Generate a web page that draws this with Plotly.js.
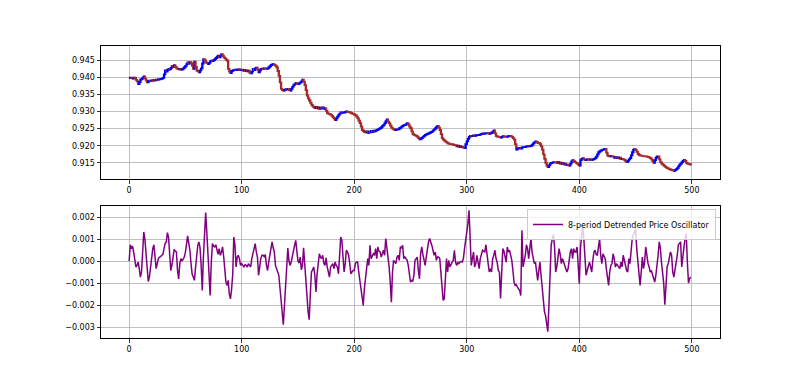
<!DOCTYPE html>
<html>
<head>
<meta charset="utf-8">
<script src="https://cdn.plot.ly/plotly-3.0.1.min.js"></script>
<style>html,body{margin:0;padding:0;background:#fff;}#chart{width:800px;height:380px;}</style>
</head>
<body>
<div id="chart"></div>
<script>
// Close prices (one per bar, bars 0..499)
const closes = [
0.9397,0.9399,0.9398,0.9396,0.9399,0.9398,0.9392,0.9388,0.9380,0.9386,
0.9393,0.9395,0.9399,0.9402,0.9396,0.9390,0.9385,0.9388,0.9390,0.9389,
0.9391,0.9390,0.9392,0.9391,0.9393,0.9392,0.9394,0.9394,0.9395,0.9396,
0.9398,0.9408,0.9420,0.9416,0.9421,0.9424,0.9423,0.9427,0.9432,0.9430,
0.9435,0.9430,0.9426,0.9424,0.9423,0.9424,0.9422,0.9423,0.9426,0.9429,
0.9433,0.9438,0.9443,0.9440,0.9444,0.9441,0.9433,0.9424,0.9445,0.9430,
0.9419,0.9418,0.9414,0.9420,0.9426,0.9440,0.9453,0.9450,0.9443,0.9441,
0.9438,0.9442,0.9446,0.9448,0.9447,0.9450,0.9453,0.9456,0.9460,0.9463,
0.9458,0.9462,0.9467,0.9463,0.9458,0.9455,0.9451,0.9448,0.9424,0.9416,
0.9412,0.9418,0.9420,0.9421,0.9422,0.9421,0.9422,0.9423,0.9421,0.9422,
0.9422,0.9419,0.9421,0.9418,0.9420,0.9417,0.9419,0.9413,0.9411,0.9416,
0.9424,0.9421,0.9426,0.9428,0.9422,0.9414,0.9420,0.9424,0.9425,0.9424,
0.9426,0.9425,0.9424,0.9426,0.9429,0.9432,0.9436,0.9437,0.9438,0.9436,
0.9433,0.9429,0.9418,0.9404,0.9385,0.9366,0.9362,0.9361,0.9363,0.9365,
0.9364,0.9366,0.9362,0.9361,0.9366,0.9372,0.9377,0.9380,0.9383,0.9381,
0.9380,0.9382,0.9385,0.9388,0.9393,0.9387,0.9377,0.9362,0.9346,0.9338,
0.9332,0.9325,0.9319,0.9315,0.9312,0.9310,0.9313,0.9309,0.9312,0.9308,
0.9311,0.9309,0.9312,0.9308,0.9309,0.9302,0.9295,0.9293,0.9292,0.9290,
0.9287,0.9283,0.9279,0.9275,0.9280,0.9285,0.9290,0.9294,0.9297,0.9296,
0.9297,0.9297,0.9299,0.9300,0.9299,0.9298,0.9297,0.9296,0.9294,0.9293,
0.9291,0.9289,0.9285,0.9280,0.9273,0.9266,0.9256,0.9246,0.9243,0.9240,
0.9239,0.9242,0.9238,0.9241,0.9239,0.9243,0.9240,0.9244,0.9242,0.9244,
0.9246,0.9248,0.9250,0.9251,0.9254,0.9258,0.9261,0.9266,0.9272,0.9277,
0.9270,0.9265,0.9259,0.9253,0.9250,0.9248,0.9246,0.9247,0.9248,0.9248,
0.9251,0.9253,0.9256,0.9258,0.9260,0.9261,0.9263,0.9266,0.9262,0.9256,
0.9251,0.9242,0.9234,0.9232,0.9230,0.9229,0.9226,0.9222,0.9219,0.9221,
0.9223,0.9226,0.9229,0.9232,0.9233,0.9235,0.9236,0.9238,0.9240,0.9241,
0.9245,0.9248,0.9251,0.9255,0.9258,0.9253,0.9246,0.9234,0.9222,0.9218,
0.9215,0.9212,0.9210,0.9207,0.9206,0.9205,0.9205,0.9204,0.9203,0.9202,
0.9201,0.9198,0.9200,0.9197,0.9199,0.9196,0.9197,0.9194,0.9193,0.9205,
0.9213,0.9220,0.9226,0.9229,0.9228,0.9229,0.9230,0.9229,0.9230,0.9231,
0.9231,0.9232,0.9233,0.9234,0.9236,0.9235,0.9236,0.9236,0.9237,0.9236,
0.9235,0.9237,0.9238,0.9241,0.9245,0.9236,0.9228,0.9227,0.9226,0.9226,
0.9224,0.9226,0.9228,0.9227,0.9226,0.9226,0.9227,0.9228,0.9229,0.9228,
0.9226,0.9222,0.9218,0.9205,0.9189,0.9192,0.9193,0.9194,0.9192,0.9195,
0.9196,0.9196,0.9197,0.9198,0.9199,0.9198,0.9199,0.9200,0.9203,0.9207,
0.9210,0.9213,0.9211,0.9208,0.9208,0.9205,0.9198,0.9189,0.9175,0.9162,
0.9150,0.9142,0.9138,0.9143,0.9148,0.9150,0.9151,0.9152,0.9152,0.9151,
0.9150,0.9153,0.9149,0.9151,0.9147,0.9150,0.9146,0.9148,0.9144,0.9145,
0.9143,0.9142,0.9148,0.9154,0.9158,0.9155,0.9152,0.9150,0.9148,0.9145,
0.9142,0.9158,0.9162,0.9164,0.9160,0.9158,0.9159,0.9161,0.9160,0.9159,
0.9160,0.9159,0.9160,0.9162,0.9164,0.9168,0.9175,0.9181,0.9184,0.9186,
0.9188,0.9189,0.9190,0.9191,0.9180,0.9171,0.9170,0.9169,0.9170,0.9169,
0.9168,0.9165,0.9167,0.9164,0.9166,0.9163,0.9165,0.9161,0.9162,0.9160,
0.9159,0.9155,0.9152,0.9156,0.9160,0.9164,0.9172,0.9181,0.9189,0.9190,
0.9187,0.9182,0.9176,0.9173,0.9171,0.9171,0.9170,0.9170,0.9169,0.9169,
0.9168,0.9167,0.9166,0.9164,0.9160,0.9155,0.9150,0.9158,0.9165,0.9169,
0.9169,0.9160,0.9152,0.9148,0.9145,0.9142,0.9139,0.9137,0.9135,0.9133,
0.9132,0.9130,0.9129,0.9128,0.9127,0.9129,0.9132,0.9135,0.9140,0.9145,
0.9148,0.9152,0.9156,0.9159,0.9156,0.9150,0.9148,0.9147,0.9146,0.9145
];

// 8-period Detrended Price Oscillator
const dpo = [
0.00000,0.00074,0.00056,0.00068,0.00041,-0.00002,-0.00027,-0.00020,-0.00005,-0.00035,
-0.00073,-0.00050,0.00041,0.00132,0.00100,0.00026,-0.00065,-0.00093,-0.00073,-0.00020,
0.00030,0.00056,0.00074,0.00011,-0.00035,-0.00012,0.00011,0.00018,0.00020,0.00026,
0.00030,0.00056,0.00080,0.00087,0.00129,0.00109,0.00030,-0.00043,-0.00020,0.00026,
0.00053,0.00045,0.00041,-0.00043,-0.00081,-0.00012,0.00011,0.00000,0.00010,0.00018,
0.00040,0.00071,0.00114,0.00080,0.00049,-0.00012,-0.00060,-0.00073,-0.00088,-0.00030,
0.00041,0.00071,0.00087,0.00060,-0.00020,-0.00134,0.00020,0.00140,0.00220,0.00132,
0.00026,-0.00090,-0.00157,-0.00005,0.00079,0.00068,0.00064,0.00074,0.00045,0.00030,
0.00056,0.00026,0.00040,0.00064,0.00020,-0.00030,-0.00096,-0.00111,-0.00088,-0.00150,
-0.00172,-0.00130,-0.00065,0.00109,0.00074,-0.00027,0.00018,0.00026,0.00010,-0.00020,
-0.00012,-0.00020,-0.00027,-0.00017,-0.00020,-0.00027,-0.00012,-0.00020,-0.00027,0.00011,
0.00040,0.00056,0.00079,0.00041,0.00018,-0.00065,-0.00020,0.00011,0.00026,0.00026,
0.00020,0.00029,-0.00020,-0.00043,-0.00005,0.00030,0.00064,0.00087,0.00060,0.00041,
-0.00020,-0.00040,-0.00050,-0.00065,-0.00130,-0.00200,-0.00248,-0.00290,-0.00202,-0.00096,
0.00011,0.00059,0.00000,-0.00020,-0.00005,0.00026,0.00040,0.00071,0.00094,0.00041,
0.00000,-0.00010,0.00018,-0.00040,-0.00020,0.00060,-0.00005,-0.00050,-0.00157,-0.00230,
-0.00267,-0.00150,-0.00050,-0.00040,-0.00027,-0.00065,-0.00141,-0.00060,-0.00020,0.00033,
0.00018,0.00011,0.00026,-0.00010,-0.00020,0.00014,-0.00027,-0.00050,-0.00073,-0.00027,
-0.00017,-0.00012,-0.00035,-0.00005,-0.00020,-0.00027,-0.00058,0.00056,0.00109,0.00094,
0.00030,-0.00050,-0.00012,0.00049,0.00041,0.00026,-0.00012,-0.00058,-0.00050,-0.00043,
-0.00043,-0.00012,-0.00005,-0.00005,-0.00050,-0.00090,-0.00130,-0.00170,-0.00202,-0.00126,
-0.00088,-0.00050,0.00011,-0.00020,0.00071,0.00010,0.00026,0.00033,0.00026,0.00056,
0.00011,0.00064,0.00045,0.00041,0.00018,0.00030,0.00049,0.00026,0.00102,0.00060,
0.00026,-0.00027,-0.00096,-0.00187,-0.00050,0.00003,-0.00005,-0.00012,0.00018,0.00026,
0.00003,0.00064,0.00060,0.00071,0.00011,0.00018,0.00011,0.00003,-0.00020,-0.00060,
-0.00096,-0.00088,-0.00093,-0.00065,0.00003,0.00010,0.00018,-0.00043,-0.00081,0.00033,
0.00064,0.00030,0.00003,-0.00020,0.00018,0.00056,0.00087,0.00102,0.00090,0.00071,
0.00049,0.00026,0.00041,0.00003,0.00018,0.00018,0.00011,-0.00050,-0.00141,-0.00179,
-0.00172,-0.00050,0.00011,-0.00050,0.00003,-0.00027,-0.00012,-0.00005,0.00003,0.00049,
-0.00005,-0.00020,-0.00005,-0.00012,-0.00005,-0.00002,-0.00005,0.00011,0.00056,0.00094,
0.00120,0.00170,0.00231,0.00071,-0.00020,0.00011,0.00041,-0.00027,-0.00012,0.00026,
0.00000,-0.00035,0.00011,0.00026,0.00049,0.00045,0.00041,0.00074,0.00041,-0.00012,
-0.00050,-0.00035,-0.00050,0.00010,0.00026,0.00049,0.00011,-0.00005,-0.00043,-0.00050,
-0.00170,-0.00010,0.00056,0.00045,0.00026,-0.00005,0.00064,0.00041,0.00049,0.00030,
0.00003,-0.00043,-0.00096,-0.00111,-0.00108,-0.00119,-0.00125,-0.00134,-0.00157,0.00140,
-0.00027,-0.00005,0.00026,0.00074,0.00056,0.00011,0.00060,0.00102,0.00041,0.00011,
-0.00012,-0.00005,-0.00050,-0.00088,-0.00043,-0.00005,-0.00065,-0.00126,-0.00180,-0.00230,
-0.00248,-0.00301,-0.00321,-0.00202,-0.00050,0.00071,0.00102,0.00120,0.00064,-0.00050,
-0.00027,0.00011,0.00056,0.00030,-0.00012,0.00011,-0.00005,-0.00027,-0.00043,-0.00050,
-0.00035,0.00011,0.00041,0.00056,0.00011,0.00056,0.00041,0.00041,0.00064,-0.00020,
-0.00103,0.00056,0.00102,0.00166,0.00102,-0.00005,-0.00065,-0.00043,-0.00027,-0.00005,
-0.00027,-0.00050,0.00003,0.00041,0.00049,0.00030,0.00026,0.00079,0.00102,0.00026,
-0.00012,0.00033,0.00018,0.00011,-0.00035,-0.00073,-0.00111,-0.00050,-0.00020,-0.00012,
0.00033,0.00011,-0.00027,-0.00012,-0.00020,-0.00027,-0.00035,-0.00005,-0.00027,0.00026,
0.00003,-0.00030,-0.00043,-0.00050,0.00011,-0.00012,0.00064,0.00102,0.00120,0.00132,
0.00147,0.00056,0.00003,-0.00060,-0.00111,-0.00050,0.00018,-0.00035,-0.00005,0.00064,
0.00011,-0.00010,-0.00027,-0.00050,-0.00043,-0.00058,-0.00080,-0.00096,-0.00065,-0.00027,
0.00026,0.00087,0.00060,-0.00005,-0.00050,-0.00103,-0.00199,-0.00080,-0.00027,-0.00012,
0.00011,0.00041,0.00026,-0.00050,-0.00073,-0.00040,-0.00027,0.00026,0.00074,0.00079,
0.00087,-0.00027,0.00030,0.00064,0.00102,0.00125,-0.00005,-0.00100,-0.00080,-0.00073
];

const xTickVals = [0, 100, 200, 300, 400, 500];
const priceTickVals = [0.915, 0.920, 0.925, 0.930, 0.935, 0.940, 0.945];
const dpoTickVals = [-0.003, -0.002, -0.001, 0.000, 0.001, 0.002];
const legendLabel = '8-period Detrended Price Oscillator';

// Build OHLC table from closes (open = previous close)
const bars = closes.map((_, i) => i);
const opens = closes.map((c, i) => i === 0 ? c : closes[i - 1]);
const highs = closes.map((c, i) => Math.max(c, opens[i]));
const lows = closes.map((c, i) => Math.min(c, opens[i]));

const axisCommon = {
  showline: true, mirror: true, linecolor: '#000', linewidth: 1,
  ticks: 'outside', ticklen: 3.5, tickwidth: 0.8, tickcolor: '#000',
  showgrid: true, gridcolor: '#b0b0b0', gridwidth: 0.8,
  zeroline: false, tickfont: {family: 'DejaVu Sans', size: 8, color: '#000'}
};

const traces = [
  {
    type: 'candlestick', x: bars, open: opens, high: highs, low: lows, close: closes,
    xaxis: 'x', yaxis: 'y', showlegend: false, whiskerwidth: 0,
    increasing: {line: {color: '#0000ff', width: 1.8}, fillcolor: '#0000ff'},
    decreasing: {line: {color: '#a52a2a', width: 1.8}, fillcolor: '#a52a2a'},
    hoverinfo: 'skip'
  },
  {
    type: 'scatter', mode: 'lines', x: bars, y: dpo, xaxis: 'x2', yaxis: 'y2',
    name: legendLabel, line: {color: '#800080', width: 1.5}, showlegend: true
  }
];

const layout = {
  width: 800, height: 380,
  margin: {l: 101, r: 80, t: 46, b: 42},
  paper_bgcolor: '#fff', plot_bgcolor: '#fff',
  font: {family: 'DejaVu Sans', size: 8, color: '#000'},
  hovermode: false,
  xaxis: Object.assign({}, axisCommon, {
    domain: [0, 1], anchor: 'y', range: [-25, 525], tickvals: xTickVals,
    rangeslider: {visible: false}
  }),
  yaxis: Object.assign({}, axisCommon, {
    domain: [0.5445, 1], anchor: 'x', range: [0.9103, 0.9491],
    tickvals: priceTickVals, tickformat: '.3f'
  }),
  xaxis2: Object.assign({}, axisCommon, {
    domain: [0, 1], anchor: 'y2', range: [-25, 525], tickvals: xTickVals
  }),
  yaxis2: Object.assign({}, axisCommon, {
    domain: [0, 0.452], anchor: 'x2', range: [-0.0035, 0.0025],
    tickvals: dpoTickVals, tickformat: '.3f'
  }),
  showlegend: true,
  legend: {
    x: 0.9935, xanchor: 'right', y: 0.4418, yanchor: 'top',
    bgcolor: 'rgba(255,255,255,0.8)', bordercolor: '#cccccc', borderwidth: 1,
    itemwidth: 30,
    font: {family: 'DejaVu Sans', size: 8, color: '#000'}
  }
};

Plotly.newPlot('chart', traces, layout, {displayModeBar: false, staticPlot: true});
</script>
</body>
</html>
